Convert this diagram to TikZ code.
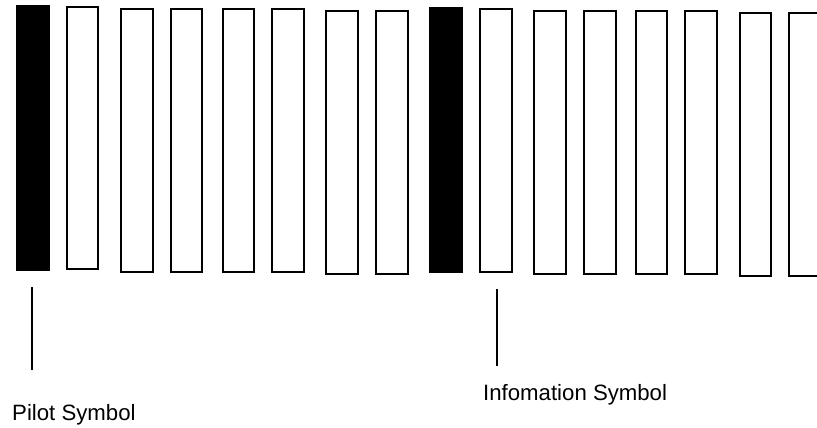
\documentclass[tikz,border=0pt]{standalone}
\usepackage{fontspec}
\setmainfont{Liberation Sans}
\begin{document}
\begin{tikzpicture}[x=1pt,y=-1pt,
  slot/.style={draw=black,line width=1.6pt,fill=white},
  pilot/.style={fill=black},
  tag/.style={font=\fontsize{22.2}{24}\selectfont,inner sep=0pt,anchor=base west},
  lead/.style={line width=1.4pt}]
\useasboundingbox (0,0) rectangle (817,428);
\clip (0,0) rectangle (817,428);
% symbol stream: pilot symbols filled, information symbols outlined
\fill[pilot] (16,5) rectangle (50,271);
\foreach \xa/\ya/\xb/\yb in {66/6/99/270, 120/8/154/273, 170/8/203/273,
    222/8/255/273, 271/8/305/273, 325/10/359/275, 375/10/409/275}
  \draw[slot] (\xa+0.8,\ya+0.8) rectangle (\xb-0.8,\yb-0.8);
\fill[pilot] (429,7) rectangle (463,273);
\foreach \xa/\ya/\xb/\yb in {479/8/513/273, 533/10/567/275, 583/10/617/275,
    635/10/668/275, 684/10/718/275, 739/12/772/277, 788/12/822/277}
  \draw[slot] (\xa+0.8,\ya+0.8) rectangle (\xb-0.8,\yb-0.8);
% pointers and labels
\coordinate (p1) at (32,287);
\coordinate (p2) at (32,370);
\draw[lead] (p1) -- (p2);
\node[tag] (pilotlbl) at (12,420) {Pilot Symbol};
\coordinate (i1) at (497,289);
\coordinate (i2) at (497,366);
\draw[lead] (i1) -- (i2);
\node[tag] (infolbl) at (483,400.5) {Infomation Symbol};
\end{tikzpicture}
\end{document}
